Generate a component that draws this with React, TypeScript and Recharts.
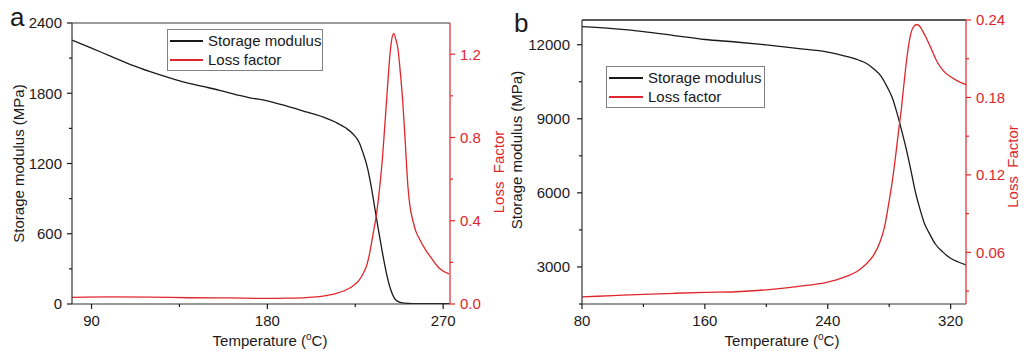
import { LineChart, Line, XAxis, YAxis, Legend, ReferenceLine } from 'recharts';

const FONT = '"Liberation Sans", Arial, sans-serif';
const RED = '#e0262c';
const INK = '#1a1a1a';

// panel a: storage modulus (MPa) and loss factor vs temperature
const aModTemp = [80, 90, 100, 110, 120, 130, 140, 150, 160, 170, 180, 190, 200, 210, 215, 220, 224, 227, 229, 231, 233, 235, 237, 239, 241, 243, 245, 247, 250, 260, 273];
const aModValue = [2255, 2185, 2115, 2045, 1985, 1932, 1885, 1847, 1805, 1765, 1735, 1690, 1640, 1588, 1552, 1505, 1450, 1380, 1290, 1180, 1020, 820, 620, 430, 260, 130, 50, 20, 8, 3, 2];
const aLossTemp = [80, 100, 120, 140, 160, 180, 190, 200, 205, 210, 215, 220, 224, 227, 229, 231, 232.5, 234, 236, 237.5, 239, 240, 241.5, 242.6, 243.5, 244.7, 245.8, 246.8, 248, 249.4, 250.7, 252, 253, 254.5, 256, 258, 261, 264, 268, 273];
const aLossValue = [0.032, 0.034, 0.033, 0.030, 0.029, 0.027, 0.028, 0.031, 0.034, 0.040, 0.050, 0.066, 0.088, 0.115, 0.145, 0.19, 0.25, 0.33, 0.44, 0.56, 0.71, 0.84, 1.04, 1.18, 1.26, 1.30, 1.27, 1.23, 1.12, 0.96, 0.76, 0.56, 0.47, 0.40, 0.35, 0.31, 0.26, 0.22, 0.172, 0.145];

// panel b
const bModTemp = [80, 100, 120, 140, 160, 180, 200, 220, 240, 250, 260, 265, 270, 275, 279, 282, 285, 288, 291, 294, 297, 300, 303, 306, 310, 315, 320, 325, 330];
const bModValue = [12730, 12650, 12530, 12370, 12210, 12110, 11990, 11850, 11700, 11560, 11380, 11250, 11020, 10700, 10250, 9850, 9250, 8550, 7800, 6950, 6050, 5350, 4750, 4380, 3930, 3600, 3350, 3200, 3080];
const bLossTemp = [80, 100, 120, 140, 160, 180, 200, 220, 240, 250, 260, 265, 270, 274, 277, 280, 282, 284, 286, 288, 290, 292, 294, 296, 298, 300, 302, 305, 308, 311, 315, 320, 325, 330];
const bLossValue = [0.0255, 0.0265, 0.0275, 0.0283, 0.029, 0.0295, 0.031, 0.0335, 0.037, 0.0405, 0.046, 0.051, 0.058, 0.068, 0.080, 0.100, 0.115, 0.133, 0.153, 0.172, 0.195, 0.215, 0.229, 0.235, 0.2365, 0.235, 0.231, 0.224, 0.216, 0.208, 0.201, 0.196, 0.1925, 0.190];

const seriesOrder = ['Storage modulus', 'Loss factor'];

// axis ticks
const aXMajor = [90, 180, 270];
const aXMinor = [135, 225];
const aLeftMajor = [0, 600, 1200, 1800, 2400];
const aLeftMinor = [300, 900, 1500, 2100];
const aRightMajor = [0, 0.4, 0.8, 1.2];
const aRightMinor = [0.2, 0.6, 1.0];
const bXMajor = [80, 160, 240, 320];
const bXMinor = [120, 200, 280];
const bLeftMajor = [3000, 6000, 9000, 12000];
const bLeftMinor = [1500, 4500, 7500, 10500];
const bRightMajor = [0.06, 0.12, 0.18, 0.24];
const bRightMinor = [0.03, 0.09, 0.15, 0.21];

const rows = (temps: number[], vals: number[], key: string) => temps.map((t, i) => ({ t, [key]: vals[i] }));

function makeTick(side: 'left' | 'right' | 'bottom', major: number[], fmt: (v: number) => string, color: string, margin = 5) {
  return (props: any) => {
    const { x, y, payload } = props;
    const v = payload.value;
    const isMajor = major.some((m) => Math.abs(m - v) < 1e-6);
    const len = isMajor ? 5 : 3;
    const textProps = { fill: color, fontSize: 15, fontFamily: FONT };
    if (side === 'left') {
      const ax = x + 5 + margin;
      return (
        <g>
          <line x1={ax - len} x2={ax} y1={y} y2={y} stroke={color} strokeWidth={1.2} />
          {isMajor && <text x={x} y={y} dy="0.36em" textAnchor="end" {...textProps}>{fmt(v)}</text>}
        </g>
      );
    }
    if (side === 'right') {
      const ax = x - 5 - margin;
      return (
        <g>
          <line x1={ax} x2={ax + len} y1={y} y2={y} stroke={color} strokeWidth={1.2} />
          {isMajor && <text x={x} y={y} dy="0.36em" textAnchor="start" {...textProps}>{fmt(v)}</text>}
        </g>
      );
    }
    const ay = y - 5 - margin;
    return (
      <g>
        <line x1={x} x2={x} y1={ay} y2={ay + len} stroke={color} strokeWidth={1.2} />
        {isMajor && <text x={x} y={ay + 22} textAnchor="middle" {...textProps}>{fmt(v)}</text>}
      </g>
    );
  };
}

const vTitle = (text: string, cx: number, cy: number, color: string) => () => (
  <text x={cx} y={cy} dy="0.36em" transform={`rotate(-90 ${cx} ${cy})`} textAnchor="middle" fill={color} fontSize={15} fontFamily={FONT} style={{ whiteSpace: 'pre' }}>
    {text}
  </text>
);

const tempTitle = (cx: number) => () => (
  <text x={cx} y={346} textAnchor="middle" fill={INK} fontSize={15} fontFamily={FONT}>
    Temperature (<tspan dy={-6} fontSize={10}>o</tspan><tspan dy={6}>C)</tspan>
  </text>
);

const LegendBox = ({ payload, width, lineW }: any) => {
  const items = [...(payload || [])].sort((p: any, q: any) => seriesOrder.indexOf(p.value) - seriesOrder.indexOf(q.value));
  return (
    <div style={{ border: '1px solid #808080', background: '#fff', width, padding: '1px 0', fontFamily: FONT, fontSize: 15, color: INK, boxSizing: 'border-box' }}>
      {items.map((p: any) => (
        <div key={p.value} style={{ display: 'flex', alignItems: 'center', height: 19 }}>
          <span style={{ display: 'inline-block', width: lineW, marginLeft: 2, marginRight: 5, borderTop: `2px solid ${p.color}` }} />
          <span>{p.value}</span>
        </div>
      ))}
    </div>
  );
};

const fmtInt = (v: number) => String(v);

export default function App() {
  return (
    <div style={{ position: 'absolute', left: 0, top: 0, width: 1023, height: 351, background: '#fff', fontFamily: FONT, overflow: 'hidden' }}>
      <div style={{ position: 'absolute', left: 0, top: 0 }}>
        <LineChart width={515} height={351} margin={{ top: 23, right: 0, bottom: 0, left: 0 }}>
          <XAxis
            type="number"
            dataKey="t"
            domain={[80, 273.5]}
            ticks={[...aXMajor, ...aXMinor].sort((p, q) => p - q)}
            interval={0}
            height={47}
            tickSize={5}
            tickMargin={5}
            tickLine={false}
            axisLine={{ stroke: '#333', strokeWidth: 1.2 }}
            tick={makeTick('bottom', aXMajor, fmtInt, INK)}
            label={{ content: tempTitle(270) }}
            allowDataOverflow
          />
          <YAxis
            yAxisId="left"
            type="number"
            domain={[0, 2400]}
            ticks={[...aLeftMajor, ...aLeftMinor].sort((p, q) => p - q)}
            interval={0}
            width={72}
            tickSize={5}
            tickMargin={5}
            tickLine={false}
            axisLine={{ stroke: '#333', strokeWidth: 1.2 }}
            tick={makeTick('left', aLeftMajor, fmtInt, INK)}
            label={{ content: vTitle('Storage modulus (MPa)', 19, 163.5, INK) }}
            allowDataOverflow
          />
          <YAxis
            yAxisId="right"
            orientation="right"
            type="number"
            domain={[0, 1.35]}
            ticks={[...aRightMajor, ...aRightMinor].sort((p, q) => p - q)}
            interval={0}
            width={65}
            tickSize={5}
            tickMargin={5}
            tickLine={false}
            axisLine={{ stroke: RED, strokeWidth: 1.2 }}
            tick={makeTick('right', aRightMajor, (v) => v.toFixed(1), RED)}
            label={{ content: vTitle('Loss  Factor', 499, 172, RED) }}
            allowDataOverflow
          />
          <ReferenceLine yAxisId="left" y={2400} stroke="#7a7a7a" strokeWidth={1.5} />
          <Line yAxisId="left" data={rows(aModTemp, aModValue, 'v')} dataKey="v" name="Storage modulus" type="monotone" stroke={INK} strokeWidth={1.3} dot={false} isAnimationActive={false} />
          <Line yAxisId="right" data={rows(aLossTemp, aLossValue, 'v')} dataKey="v" name="Loss factor" type="monotone" stroke={RED} strokeWidth={1.3} dot={false} isAnimationActive={false} />
          <Legend
            layout="horizontal"
            verticalAlign="middle"
            align="center"
            wrapperStyle={{ left: 167, top: 29, width: 'auto', height: 'auto' }}
            content={(p: any) => <LegendBox payload={p.payload} width={156} lineW={33} />}
          />
        </LineChart>
      </div>
      <div style={{ position: 'absolute', left: 10, top: 4, fontSize: 26, fontFamily: FONT, color: INK, lineHeight: 1 }}>a</div>

      <div style={{ position: 'absolute', left: 495, top: 0 }}>
        <LineChart width={528} height={351} margin={{ top: 20, right: 0, bottom: 0, left: 0 }}>
          <XAxis
            type="number"
            dataKey="t"
            domain={[80, 330]}
            ticks={[...bXMajor, ...bXMinor].sort((p, q) => p - q)}
            interval={0}
            height={47}
            tickSize={5}
            tickMargin={5}
            tickLine={false}
            axisLine={{ stroke: '#333', strokeWidth: 1.2 }}
            tick={makeTick('bottom', bXMajor, fmtInt, INK)}
            label={{ content: tempTitle(287) }}
            allowDataOverflow
          />
          <YAxis
            yAxisId="left"
            type="number"
            domain={[1500, 13000]}
            ticks={[...bLeftMajor, ...bLeftMinor].sort((p, q) => p - q)}
            interval={0}
            width={87}
            tickSize={5}
            tickMargin={7}
            tickLine={false}
            axisLine={{ stroke: '#333', strokeWidth: 1.2 }}
            tick={makeTick('left', bLeftMajor, fmtInt, INK, 7)}
            label={{ content: vTitle('Storage modulus (MPa)', 21.5, 150, INK) }}
            allowDataOverflow
          />
          <YAxis
            yAxisId="right"
            orientation="right"
            type="number"
            domain={[0.02, 0.24]}
            ticks={[...bRightMajor, ...bRightMinor].sort((p, q) => p - q)}
            interval={0}
            width={57}
            tickSize={5}
            tickMargin={5}
            tickLine={false}
            axisLine={{ stroke: RED, strokeWidth: 1.2 }}
            tick={makeTick('right', bRightMajor, (v) => v.toFixed(2), RED)}
            label={{ content: vTitle('Loss  Factor', 518, 166.5, RED) }}
            allowDataOverflow
          />
          <ReferenceLine yAxisId="left" y={13000} stroke="#222" strokeWidth={1.3} />
          <Line yAxisId="left" data={rows(bModTemp, bModValue, 'v')} dataKey="v" name="Storage modulus" type="monotone" stroke={INK} strokeWidth={1.3} dot={false} isAnimationActive={false} />
          <Line yAxisId="right" data={rows(bLossTemp, bLossValue, 'v')} dataKey="v" name="Loss factor" type="monotone" stroke={RED} strokeWidth={1.3} dot={false} isAnimationActive={false} />
          <Legend
            layout="horizontal"
            verticalAlign="middle"
            align="center"
            wrapperStyle={{ left: 111, top: 66, width: 'auto', height: 'auto' }}
            content={(p: any) => <LegendBox payload={p.payload} width={159} lineW={34} />}
          />
        </LineChart>
      </div>
      <div style={{ position: 'absolute', left: 514, top: 10, fontSize: 26, fontFamily: FONT, color: INK, lineHeight: 1 }}>b</div>
    </div>
  );
}
